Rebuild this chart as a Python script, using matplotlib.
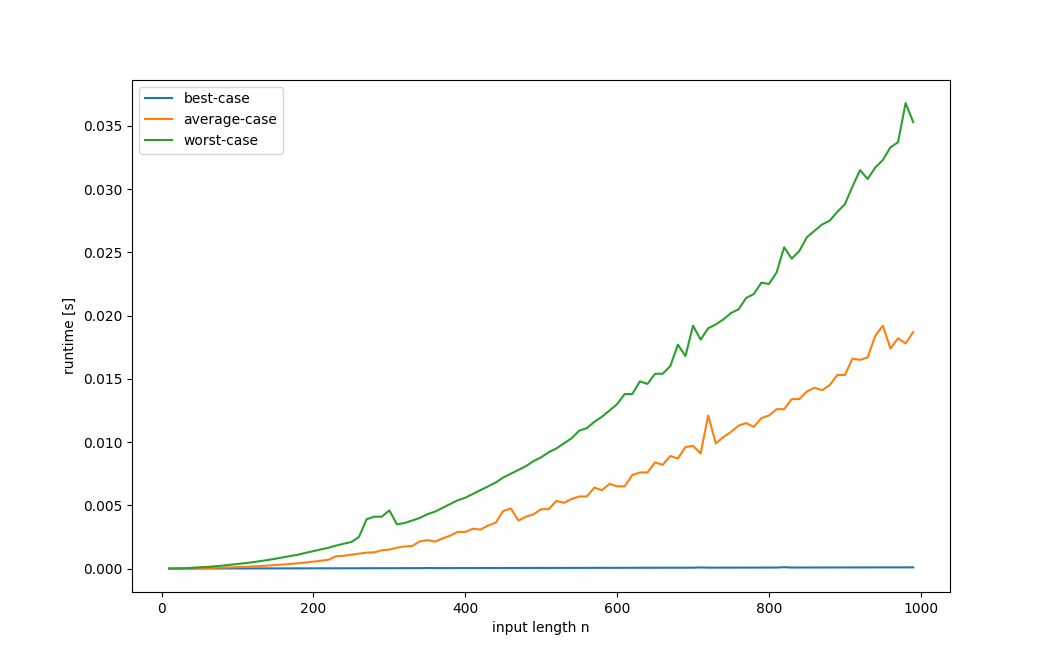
import matplotlib
matplotlib.use("Agg")
import matplotlib.pyplot as plt

# input sizes
n = list(range(10, 1000, 10))

# measured runtimes [s]
best = [0.000001, 0.000002, 0.000003, 0.000004, 0.000005, 0.000006, 0.000007, 0.000008, 0.000009, 0.00001,
        0.000011, 0.000012, 0.000013, 0.000014, 0.000015, 0.000016, 0.000017, 0.000018, 0.000019, 0.00002,
        0.000021, 0.000022, 0.000023, 0.000024, 0.000025, 0.000026, 0.000027, 0.000028, 0.000029, 0.00003,
        0.000031, 0.000032, 0.000033, 0.000034, 0.000045, 0.000036, 0.000037, 0.000038, 0.000039, 0.00004,
        0.000041, 0.000042, 0.000043, 0.000044, 0.000045, 0.000046, 0.000047, 0.000048, 0.000049, 0.00005,
        0.000051, 0.000052, 0.000053, 0.000054, 0.000055, 0.000056, 0.000057, 0.000058, 0.000059, 0.00006,
        0.000061, 0.000062, 0.000063, 0.000064, 0.000065, 0.000066, 0.000067, 0.000068, 0.000069, 0.00007,
        0.000091, 0.000072, 0.000073, 0.000074, 0.000075, 0.000076, 0.000077, 0.000078, 0.000079, 0.00008,
        0.000081, 0.000112, 0.000083, 0.000084, 0.000085, 0.000086, 0.000087, 0.000088, 0.000089, 0.00009,
        0.000091, 0.000092, 0.000093, 0.000094, 0.000095, 0.000096, 0.000097, 0.000098, 0.000099]

average = [0.0, 0.00001, 0.00001, 0.00002, 0.00003, 0.00004, 0.00006, 0.00008, 0.0001, 0.00012,
           0.00014, 0.00017, 0.0002, 0.00024, 0.00028, 0.00032, 0.00037, 0.00042, 0.00048, 0.00055,
           0.00062, 0.0007, 0.00098, 0.00101, 0.0011, 0.00118, 0.00126, 0.00128, 0.00145, 0.0015,
           0.00165, 0.00175, 0.00178, 0.00215, 0.00225, 0.00213, 0.00238, 0.0026, 0.0029, 0.0029,
           0.00315, 0.00308, 0.0034, 0.00362, 0.00455, 0.00475, 0.0038, 0.0041, 0.0043, 0.0047,
           0.0047, 0.00535, 0.0052, 0.0055, 0.0057, 0.0057, 0.0064, 0.0062, 0.0067, 0.0065,
           0.0065, 0.0074, 0.0076, 0.0076, 0.0084, 0.0082, 0.0089, 0.0087, 0.0096, 0.0097,
           0.0091, 0.0121, 0.0099, 0.0104, 0.0108, 0.0113, 0.0115, 0.0112, 0.0119, 0.0121,
           0.0126, 0.0126, 0.0134, 0.0134, 0.0140, 0.0143, 0.0141, 0.0145, 0.0153, 0.0153,
           0.0166, 0.0165, 0.0167, 0.0184, 0.0192, 0.0174, 0.0182, 0.0178, 0.0187]

worst = [0.0, 0.00001, 0.00003, 0.00006, 0.0001, 0.00013, 0.00018, 0.00023, 0.0003, 0.00036,
         0.00043, 0.0005, 0.00059, 0.00068, 0.00078, 0.00089, 0.001, 0.0011, 0.00125, 0.00138,
         0.00152, 0.00165, 0.00182, 0.00197, 0.0021, 0.0025, 0.0039, 0.0041, 0.0041, 0.0046,
         0.0035, 0.0036, 0.0038, 0.0040, 0.0043, 0.0045, 0.0048, 0.0051, 0.0054, 0.0056,
         0.0059, 0.0062, 0.0065, 0.0068, 0.0072, 0.0075, 0.0078, 0.0081, 0.0085, 0.0088,
         0.0092, 0.0095, 0.0099, 0.0103, 0.0109, 0.0111, 0.0116, 0.0120, 0.0125, 0.0130,
         0.0138, 0.0138, 0.0148, 0.0146, 0.0154, 0.0154, 0.0160, 0.0177, 0.0168, 0.0192,
         0.0181, 0.0190, 0.0193, 0.0197, 0.0202, 0.0205, 0.0214, 0.0217, 0.0226, 0.0225,
         0.0234, 0.0254, 0.0245, 0.0251, 0.0262, 0.0267, 0.0272, 0.0275, 0.0282, 0.0288,
         0.0302, 0.0315, 0.0308, 0.0317, 0.0323, 0.0333, 0.0337, 0.0368, 0.0353]

fig, ax = plt.subplots(figsize=(10.56, 6.65), dpi=100)
ax.plot(n, best, label='best-case')
ax.plot(n, average, label='average-case')
ax.plot(n, worst, label='worst-case')
ax.set_xlabel('input length n')
ax.set_ylabel('runtime [s]')
ax.legend(loc='upper left')

fig.savefig('out.png')
